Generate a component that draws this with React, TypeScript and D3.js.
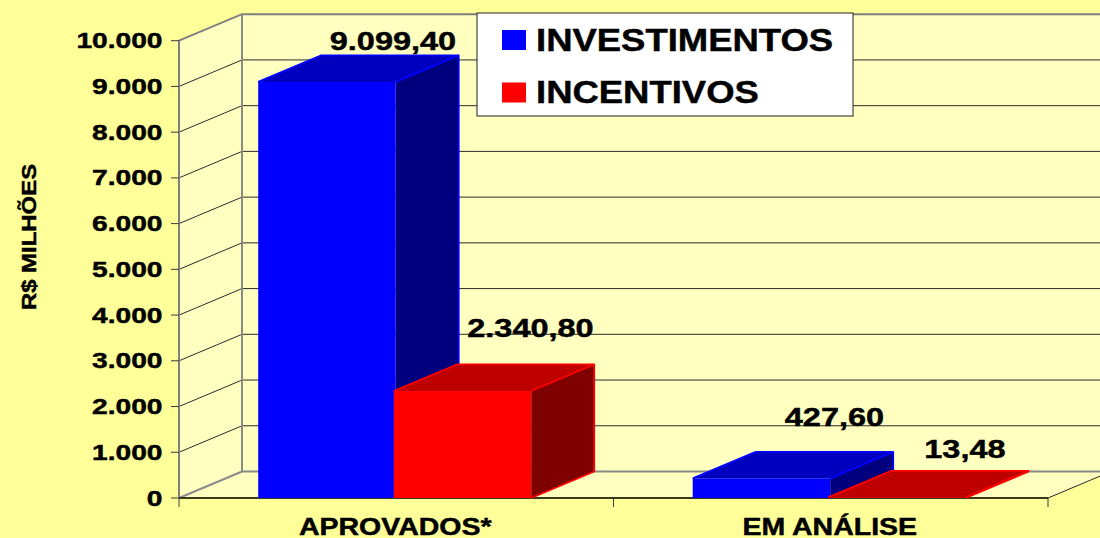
import React from 'react';
import * as d3 from 'd3';

const categories = ['APROVADOS*', 'EM ANÁLISE'];
const seriesNames = ['INVESTIMENTOS', 'INCENTIVOS'];
const investimentos = [9099.4, 427.6];
const incentivos = [2340.8, 13.48];
const valueLabels = [['9.099,40', '427,60'], ['2.340,80', '13,48']];
const yTicks = [0, 1000, 2000, 3000, 4000, 5000, 6000, 7000, 8000, 9000, 10000];

const WIDTH = 1100;
const HEIGHT = 538;
// 3d offset of the back wall
const DX = 63;
const DY = -26.5;
const FONT = '"Liberation Sans", Arial, sans-serif';

const palette = [
  { front: '#0000ff', top: '#0000be', side: '#00007f', line: '#0000ff' },
  { front: '#ff0000', top: '#be0000', side: '#7f0000', line: '#ff0000' },
];

// excel moved the data labels by hand, so each one has its own nudge
const labelNudge = [[[3, -5], [10, -26]], [[5, -27], [5, -13]]];

function StretchText({ x, y, size, sx, anchor = 'start', children }: any) {
  return (
    <text
      transform={`translate(${x},${y}) scale(${sx},1)`}
      fontFamily={FONT}
      fontWeight="bold"
      fontSize={size}
      textAnchor={anchor}
      fill="#000"
      stroke="#000"
      strokeWidth={0.45}
    >
      {children}
    </text>
  );
}

export default function App() {
  const y = d3.scaleLinear().domain([0, 10000]).range([498, 40.7]);
  const x = d3.scaleBand().domain(categories).range([179, 1048]);
  // the two bars overlap by a couple of pixels
  const inner = d3.scaleBand().domain(seriesNames).range([79.2, 79.2 + 271]);
  const barW = inner.bandwidth() + 2;
  const series = [investimentos, incentivos];
  const face = d3.line();

  const x0 = x.range()[0];
  const x1 = x.range()[1];
  const y0 = y(0);
  const yTop = y(10000);

  const bars = seriesNames.flatMap((name, s) =>
    categories.map((cat, c) => {
      const left = (x(cat) as number) + (inner(name) as number);
      return { s, c, left, right: left + barW, top: y(series[s][c]) };
    }));

  return (
    <svg width={WIDTH} height={HEIGHT} style={{ position: 'absolute', left: 0, top: 0 }}>
      <rect width={WIDTH} height={HEIGHT} fill="#ffff99" />

      {/* walls and floor */}
      <rect x={x0 + DX} y={yTop + DY} width={x1 - x0} height={y0 - yTop} fill="#ffffc0" />
      <path
        d={face([[x0, y0], [x0, yTop], [x0 + DX, yTop + DY], [x0 + DX, y0 + DY]]) as string}
        fill="#ffffc0"
      />
      <path
        d={face([[x0, y0], [x1, y0], [x1 + DX, y0 + DY], [x0 + DX, y0 + DY]]) as string}
        fill="#ffffc0"
      />

      {/* gridlines */}
      {yTicks.slice(1, -1).map((t) => (
        <path
          key={t}
          d={face([[x0, y(t)], [x0 + DX, y(t) + DY], [x1 + DX, y(t) + DY]]) as string}
          fill="none"
          stroke="#2b2b2b"
          strokeWidth={1}
        />
      ))}
      <path
        d={face([[x0, y0], [x0, yTop], [x0 + DX, yTop + DY], [x1 + DX, yTop + DY]]) as string}
        fill="none"
        stroke="#7f7f7f"
        strokeWidth={2}
      />
      <path
        d={face([[x0 + DX, yTop + DY], [x0 + DX, y0 + DY], [x1 + DX, y0 + DY]]) as string}
        fill="none"
        stroke="#8a8a8a"
        strokeWidth={2}
      />
      <path d={face([[x0, y0], [x0 + DX, y0 + DY]]) as string} stroke="#8a8a8a" strokeWidth={2} fill="none" />
      <path d={face([[x1, y0], [x1 + DX, y0 + DY]]) as string} stroke="#2b2b2b" fill="none" />

      {/* axis lines and ticks */}
      <line x1={x0} x2={x1} y1={y0} y2={y0} stroke="#3a3a20" strokeWidth={2} />
      {yTicks.map((t) => (
        <line key={t} x1={x0 - 8} x2={x0} y1={y(t)} y2={y(t)} stroke="#3a3a3a" strokeWidth={1} />
      ))}
      {[x0, x0 + x.bandwidth(), x1].map((v) => (
        <line key={v} x1={v} x2={v} y1={y0} y2={y0 + 9} stroke="#3a3a3a" strokeWidth={1} />
      ))}

      {/* bars */}
      {bars.map(({ s, c, left, right, top }) => {
        const col = palette[s];
        return (
          <g key={`${s}-${c}`} strokeLinejoin="round">
            <path
              d={face([[left, top], [right, top], [right + DX, top + DY], [left + DX, top + DY]]) as string + 'Z'}
              fill={col.top}
            />
            <path
              d={face([[right, y0], [right, top], [right + DX, top + DY], [right + DX, y0 + DY]]) as string + 'Z'}
              fill={col.side}
            />
            <path
              d={face([[left, top], [left + DX, top + DY], [right + DX, top + DY], [right + DX, y0 + DY], [right, y0]]) as string}
              fill="none"
              stroke={col.line}
              strokeWidth={1.8}
            />
            <path
              d={face([[right, top], [right + DX, top + DY]]) as string}
              fill="none"
              stroke={col.line}
              strokeWidth={1.8}
            />
            <rect x={left} y={top} width={barW} height={y0 - top} fill={col.front} />
          </g>
        );
      })}

      {/* value labels */}
      {bars.map(({ s, c, left, top }) => (
        <StretchText
          key={`l${s}-${c}`}
          x={left + barW / 2 + DX + labelNudge[s][c][0]}
          y={top + DY + labelNudge[s][c][1]}
          size={26}
          sx={1.25}
          anchor="middle"
        >
          {valueLabels[s][c]}
        </StretchText>
      ))}

      {/* axis text */}
      {yTicks.map((t) => (
        <StretchText key={t} x={162.5} y={y(t) + 7.5} size={21.5} sx={1.31} anchor="end">
          {d3.format(',')(t).replace(/,/g, '.')}
        </StretchText>
      ))}
      {categories.map((c) => (
        <StretchText
          key={c}
          x={(x(c) as number) + x.bandwidth() / 2 - 1}
          y={535}
          size={23}
          sx={1.24}
          anchor="middle"
        >
          {c}
        </StretchText>
      ))}
      <g transform="translate(36,237) rotate(-90)">
        <StretchText x={0} y={0} size={21} sx={1.14} anchor="middle">R$ MILHÕES</StretchText>
      </g>

      {/* legend */}
      <rect x={477} y={13} width={376} height={103} fill="#fff" stroke="#222" strokeWidth={1} />
      {seriesNames.map((name, i) => (
        <g key={name}>
          <rect x={502} y={30 + i * 52.5} width={24} height={20} fill={palette[i].front} />
          <StretchText x={536} y={51 + i * 52} size={32} sx={1.14}>{name}</StretchText>
        </g>
      ))}
    </svg>
  );
}
